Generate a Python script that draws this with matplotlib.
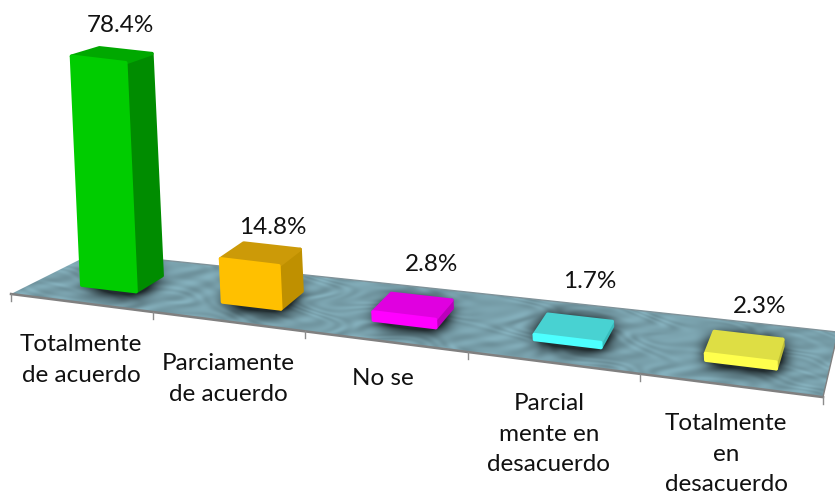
import matplotlib
matplotlib.use("Agg")
import matplotlib.pyplot as plt
import numpy as np
from matplotlib.path import Path
from matplotlib.patches import Polygon

# Data
categories = ["Totalmente\nde acuerdo", "Parciamente\nde acuerdo", "No se",
              "Parcial\nmente en\ndesacuerdo", "Totalmente\nen\ndesacuerdo"]
values = [78.4, 14.8, 2.8, 1.7, 2.3]

# Colours for front, side and top of each bar
front_colors = ["#00cc00", "#ffc000", "#ff00ff", "#4dffff", "#ffff4d"]
side_colors = ["#008c00", "#bf9000", "#bb00bb", "#38bcbc", "#bcbc38"]
top_colors = ["#00a800", "#cc9a08", "#e000e0", "#48d2d2", "#dede44"]

# Label centres in pixels
cat_label_x = [81, 228, 383, 549, 726]
cat_label_y = [360, 379, 378, 434, 454]
val_label_x = [120, 273, 432, 590, 760]
val_label_y = [25, 227, 264, 281, 306]

W, H = 835, 498
PX_PER_PCT = 2.92
FONT = ["Lato", "DejaVu Sans"]


# Floor projection: u runs along the categories, v runs into the depth
def floor(u, v):
    fx = 11 + 136.9 * u + 5.1 * u ** 2
    fy = 294 + 0.127 * (fx - 11)
    dx = 82 - 13.4 * u
    dy = -41 - 4.8 * u
    return fx + v * dx, fy + v * dy


def raised(point, h, rise=1.0):
    return point[0] - 0.045 * h, point[1] - h * rise


fig = plt.figure(figsize=(W / 100, H / 100), dpi=100)
ax = fig.add_axes([0, 0, 1, 1])
ax.set_xlim(0, W)
ax.set_ylim(H, 0)
ax.axis("off")

n = len(values)
footprints = []
for i in range(n):
    u0, u1 = i + 0.32, i + 0.715
    v0, v1 = 0.34, 0.70
    footprints.append([floor(u0, v0), floor(u1, v0), floor(u1, v1), floor(u0, v1)])

# Floor texture, sheared to follow the floor
yy, xx = np.mgrid[0:H, 0:W]
sx = xx * 1.0
sy = (yy - 0.115 * xx) * 2.2
warp = np.sin(sx / 17 + 1.2 * np.sin(sy / 13)) + np.sin(sy / 11 + 1.5 * np.sin(sx / 29))
blobs = np.sin(sx / 7 + warp * 2.2) * np.sin(sy / 6 - warp * 1.8) + 0.5 * np.sin((sx + sy) / 5 + warp)
shade = 164 + 11 * blobs
texture = np.dstack([shade * 0.74, shade * 0.98, shade * 1.05])

# Soft shadow around the bars
pts = np.column_stack([xx.ravel(), yy.ravel()])
mask = np.zeros((H, W))
for fp in footprints:
    mask = np.maximum(mask, Path(fp).contains_points(pts).reshape(H, W).astype(float))
kernel = np.ones(21) / 21
for axis in (0, 1, 0, 1):
    mask = np.apply_along_axis(lambda m: np.convolve(m, kernel, mode="same"), axis, mask)
texture = texture * (1 - 0.72 * np.clip(mask * 3.0, 0, 1))[..., None]
texture = np.clip(texture, 0, 255).astype(np.uint8)

us = np.linspace(0, n, 60)
floor_outline = [floor(u, 0) for u in us] + [floor(n, 1)] + [floor(u, 1) for u in us[::-1]]
floor_patch = Polygon(floor_outline, closed=True, facecolor="none", edgecolor="none")
ax.add_patch(floor_patch)
img = ax.imshow(texture, extent=(0, W, H, 0), aspect="auto", zorder=1, interpolation="bilinear")
img.set_clip_path(floor_patch)

# Floor edges and ticks
front_edge = np.array([floor(u, 0) for u in us])
ax.plot(front_edge[:, 0], front_edge[:, 1], color="#808080", lw=1.8, zorder=2)
back_edge = np.array([floor(u, 1) for u in us])
ax.plot(back_edge[:, 0], back_edge[:, 1], color="#7f9299", lw=1.0, zorder=2)
right_edge = np.array([floor(n, 0), floor(n, 1)])
ax.plot(right_edge[:, 0], right_edge[:, 1], color="#808080", lw=1.0, zorder=2)
for i in range(n + 1):
    tx, ty = floor(i, 0)
    ax.plot([tx, tx], [ty, ty + 7], color="#8c8c8c", lw=1.0, zorder=2)

# Bars
for i, (value, fp) in enumerate(zip(values, footprints)):
    h = value * PX_PER_PCT
    fl, fr, br, bl = fp
    tfl, tfr = raised(fl, h), raised(fr, h)
    tbr, tbl = raised(br, h, 0.97), raised(bl, h, 0.97)
    z = 3 + i
    faces = [
        ([fr, br, tbr, tfr], side_colors[i]),
        ([tfl, tfr, tbr, tbl], top_colors[i]),
        ([fl, fr, tfr, tfl], front_colors[i]),
    ]
    for pts_face, col in faces:
        ax.add_patch(Polygon(pts_face, closed=True, facecolor=col, edgecolor=col,
                             lw=2.5, joinstyle="round", zorder=z))

# Text
for label, x, y in zip(categories, cat_label_x, cat_label_y):
    ax.text(x, y, label, ha="center", va="center", fontsize=17.5, family=FONT,
            color="#111111", linespacing=1.55, zorder=10)
for value, x, y in zip(values, val_label_x, val_label_y):
    ax.text(x, y, f"{value}%", ha="center", va="center", fontsize=17.5, family=FONT,
            color="#111111", zorder=10)

fig.savefig("out.png", dpi=100, facecolor="white")
